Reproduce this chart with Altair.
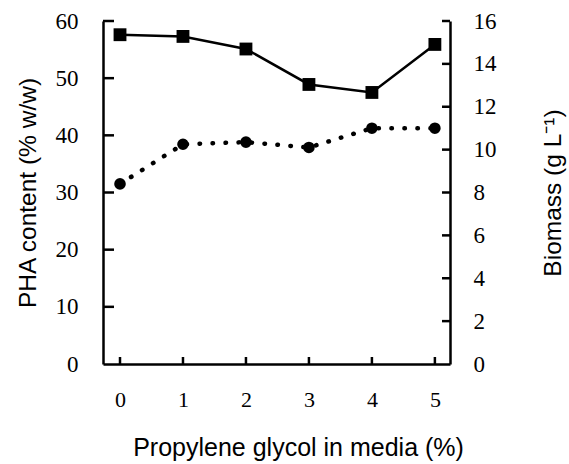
import altair as alt
import pandas as pd

# ---- data ----
glycol = [0, 1, 2, 3, 4, 5]
pha_content = [57.6, 57.3, 55.1, 48.9, 47.5, 55.9]
biomass = [8.4, 10.25, 10.35, 10.1, 11.0, 11.0]

x_ticks = [0, 1, 2, 3, 4, 5]
pha_ticks = [0, 10, 20, 30, 40, 50, 60]
bio_ticks = [0, 2, 4, 6, 8, 10, 12, 14, 16]

df = pd.DataFrame({"glycol": glycol, "pha": pha_content, "biomass": biomass})
df_xt = pd.DataFrame({"v": x_ticks})
df_pt = pd.DataFrame({"v": [t for t in pha_ticks if t > 0]})
df_bt = pd.DataFrame({"v": [t for t in bio_ticks if t > 0]})

W, H = 347, 343
SERIF = "Liberation Serif"
SANS = "Liberation Sans"

x_scale = alt.Scale(domain=[-0.27, 5.24], nice=False, zero=False)
pha_scale = alt.Scale(domain=[0, 60], nice=False)
bio_scale = alt.Scale(domain=[0, 16], nice=False)

x_axis = alt.Axis(
    title="Propylene glycol in media (%)", values=x_ticks, format="d",
    ticks=False, tickSize=0, labelPadding=25, labelFont=SERIF, labelFontSize=22,
    labelColor="black", labelFlush=False, domainColor="black", domainWidth=2.5,
    grid=False, titleFont=SANS, titleFontSize=25, titleFontWeight="normal",
    titleColor="black", titleX=195, titleY=91, titleAlign="center",
    titleBaseline="alphabetic", titleAngle=0,
)
pha_axis = alt.Axis(
    title="PHA content (% w/w)", orient="left", values=pha_ticks, format="d",
    ticks=False, tickSize=0, labelPadding=25, labelFont=SERIF, labelFontSize=23,
    labelColor="black", labelFlush=False, domainColor="black", domainWidth=2.5,
    grid=False, titleFont=SANS, titleFontSize=24.5, titleFontWeight="normal",
    titleColor="black", titleX=-68, titleY=H / 2, titleAlign="center",
    titleBaseline="alphabetic", titleAngle=270,
)
bio_axis = alt.Axis(
    title="Biomass (g L\u207b\u00b9)", orient="right", values=bio_ticks, format="d",
    ticks=False, tickSize=0, labelPadding=23, labelFont=SERIF, labelFontSize=23,
    labelColor="black", labelFlush=False, domainColor="black", domainWidth=2.5,
    grid=False, titleFont=SANS, titleFontSize=24.5, titleFontWeight="normal",
    titleColor="black", titleX=110, titleY=H / 2, titleAlign="center",
    titleBaseline="alphabetic", titleAngle=270,
)

X = alt.X("glycol:Q", scale=x_scale, axis=x_axis)

pha_line = alt.Chart(df).mark_line(color="black", strokeWidth=2.5).encode(
    x=X, y=alt.Y("pha:Q", scale=pha_scale, axis=pha_axis)
)
pha_pts = alt.Chart(df).mark_point(
    shape="square", filled=True, color="black", size=165, opacity=1
).encode(x=X, y=alt.Y("pha:Q", scale=pha_scale, axis=pha_axis))
pha_tk = alt.Chart(df_pt).mark_rule(color="black", strokeWidth=2.5).encode(
    y=alt.Y("v:Q", scale=pha_scale, axis=pha_axis),
    x=alt.value(0), x2=alt.value(11),
)
x_tk = alt.Chart(df_xt).mark_rule(color="black", strokeWidth=2.5).encode(
    x=alt.X("v:Q", scale=x_scale, axis=x_axis),
    y=alt.value(H - 7), y2=alt.value(H),
)

bio_line = alt.Chart(df).mark_line(
    color="black", strokeWidth=4.5, strokeDash=[0.5, 12.5], strokeCap="round"
).encode(x=X, y=alt.Y("biomass:Q", scale=bio_scale, axis=bio_axis))
bio_pts = alt.Chart(df).mark_point(
    shape="circle", filled=True, color="black", size=135, opacity=1
).encode(x=X, y=alt.Y("biomass:Q", scale=bio_scale, axis=bio_axis))
bio_tk = alt.Chart(df_bt).mark_rule(color="black", strokeWidth=2.5).encode(
    y=alt.Y("v:Q", scale=bio_scale, axis=bio_axis),
    x=alt.value(W - 8), x2=alt.value(W),
)

left = alt.layer(pha_line, pha_pts, pha_tk, x_tk)
right = alt.layer(bio_line, bio_pts, bio_tk)

chart = (
    alt.layer(left, right)
    .resolve_scale(y="independent")
    .properties(
        width=W, height=H,
        autosize=alt.AutoSizeParams(type="none"),
        padding={"left": 103, "top": 21, "right": 569 - 103 - W, "bottom": 464 - 21 - H},
        background="white",
    )
    .configure_view(strokeWidth=0)
)

chart.save("out.html", embed_options={"renderer": "svg", "actions": False})
